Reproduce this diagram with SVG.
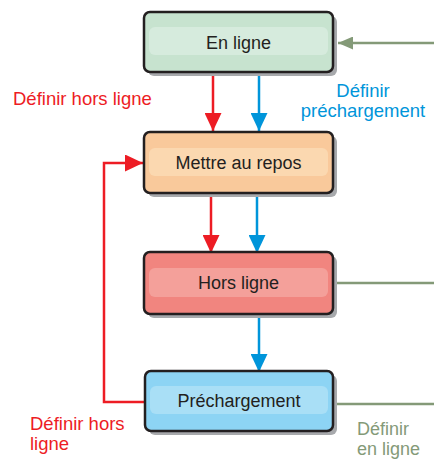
<svg xmlns="http://www.w3.org/2000/svg" width="434" height="459" viewBox="0 0 434 459">
<style>
.shadow{fill:#a7a9ac}
.box{stroke:#231f20;stroke-width:2.5}
.t{font-family:"Liberation Sans",Arial,sans-serif;font-size:18px;fill:#231f20;text-anchor:middle}
.lbl{font-family:"Liberation Sans",Arial,sans-serif;font-size:18.5px}
.red{stroke:#ed1c24;stroke-width:2.5;fill:none}
.blue{stroke:#0095da;stroke-width:2.5;fill:none}
.green{stroke:#849a78;stroke-width:2.5;fill:none}
</style>
<defs>
<marker id="ar" viewBox="0 0 18 17" refX="18" refY="8.5" markerWidth="18" markerHeight="17" markerUnits="userSpaceOnUse" orient="auto"><path d="M0,0 L18,8.5 L0,17 Z" fill="#ed1c24"/></marker>
<marker id="ab" viewBox="0 0 18 17" refX="18" refY="8.5" markerWidth="18" markerHeight="17" markerUnits="userSpaceOnUse" orient="auto"><path d="M0,0 L18,8.5 L0,17 Z" fill="#0095da"/></marker>
<marker id="ag" viewBox="0 0 15 13" refX="15" refY="6.5" markerWidth="15" markerHeight="13" markerUnits="userSpaceOnUse" orient="auto"><path d="M0,0 L15,6.5 L0,13 Z" fill="#849a78"/></marker>
</defs>
<g id="connectors">
<line class="green" x1="434" y1="43" x2="338" y2="43" marker-end="url(#ag)"/>
<line class="red" x1="213" y1="73" x2="213" y2="131" marker-end="url(#ar)"/>
<line class="blue" x1="259" y1="73" x2="259" y2="131" marker-end="url(#ab)"/>
<line class="red" x1="211" y1="196" x2="211" y2="253" marker-end="url(#ar)"/>
<line class="blue" x1="257" y1="196" x2="257" y2="253" marker-end="url(#ab)"/>
<line class="blue" x1="259" y1="316" x2="259" y2="372" marker-end="url(#ab)"/>
<line class="green" x1="333" y1="283" x2="434" y2="283"/>
<line class="green" x1="333" y1="404" x2="434" y2="404"/>
<polyline class="red" points="145,402 104,402 104,163 143,163" marker-end="url(#ar)"/>
<text class="lbl" x="13" y="105" fill="#ed1c24">Définir hors ligne</text>
<text class="lbl" x="363" y="97" fill="#0095da" text-anchor="middle">Définir</text>
<text class="lbl" x="363" y="117" fill="#0095da" text-anchor="middle">préchargement</text>
<text class="lbl" x="30" y="430" fill="#ed1c24">Définir hors</text>
<text class="lbl" x="30" y="450" fill="#ed1c24">ligne</text>
<text class="lbl" x="357" y="435" fill="#849a78" style="font-size:18px">Définir</text>
<text class="lbl" x="357" y="455" fill="#849a78" style="font-size:18px">en ligne</text>
</g>
<g id="en-ligne">
<rect class="shadow" x="148" y="16" width="189" height="60" rx="6"/>
<rect class="box" x="144" y="12" width="189" height="60" rx="6" fill="#c7e3cf"/>
<rect x="149" y="27" width="179" height="28" rx="6" fill="#d6ebdd"/>
<text class="t" x="238.5" y="49">En ligne</text>
</g>
<g id="mettre-au-repos">
<rect class="shadow" x="148" y="136" width="189" height="61" rx="6"/>
<rect class="box" x="144" y="132" width="189" height="61" rx="6" fill="#f9c99b"/>
<rect x="149" y="148" width="179" height="28" rx="6" fill="#fbd8b0"/>
<text class="t" x="238.5" y="169">Mettre au repos</text>
</g>
<g id="hors-ligne">
<rect class="shadow" x="148" y="256" width="189" height="62" rx="6"/>
<rect class="box" x="144" y="252" width="189" height="62" rx="6" fill="#f1857f"/>
<rect x="149" y="268" width="179" height="29" rx="6" fill="#f4a09a"/>
<text class="t" x="238.5" y="289">Hors ligne</text>
</g>
<g id="prechargement">
<rect class="shadow" x="149" y="375" width="188" height="60" rx="6"/>
<rect class="box" x="145" y="371" width="188" height="60" rx="6" fill="#8dd4f4"/>
<rect x="150" y="386" width="178" height="28" rx="6" fill="#a9dff6"/>
<text class="t" x="239" y="407">Préchargement</text>
</g>
</svg>
